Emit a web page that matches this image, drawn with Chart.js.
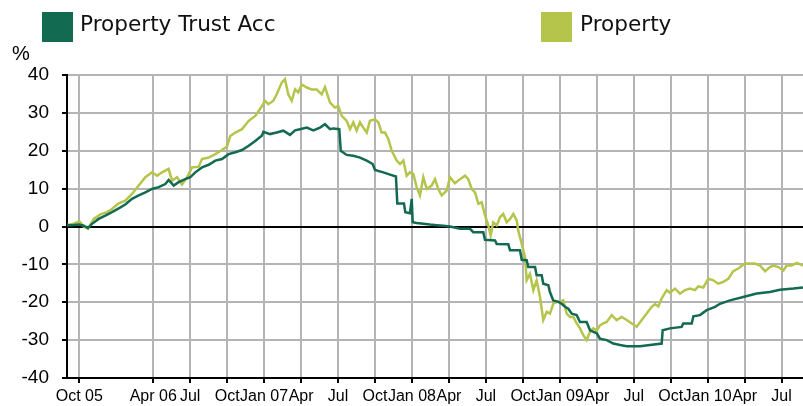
<!DOCTYPE html>
<html>
<head>
<meta charset="utf-8">
<script src="https://cdn.jsdelivr.net/npm/chart.js@4/dist/chart.umd.min.js"></script>
<style>
  html, body { margin: 0; padding: 0; background: #fff; }
  #wrap { position: relative; width: 803px; height: 406px; }
</style>
</head>
<body>
<div id="wrap"><canvas id="chart" width="803" height="406"></canvas></div>
<script>
// months counted from 1 Sep 2005
const tickMonths = [1, 7, 10, 13, 16, 19, 22, 25, 28, 31, 34, 37, 40, 43, 46, 49, 52, 55, 58];
const tickLabels = ['Oct 05', 'Apr 06', 'Jul', 'Oct', 'Jan 07', 'Apr', 'Jul', 'Oct', 'Jan 08', 'Apr', 'Jul', 'Oct', 'Jan 09', 'Apr', 'Jul', 'Oct', 'Jan 10', 'Apr', 'Jul'];

const trustMonths = [0, 0.41, 0.95, 1.36, 1.70, 2.03, 2.57, 3.11, 3.65, 4.20, 4.73, 5.28, 5.82, 6.36, 6.90, 7.44, 7.98, 8.25, 8.66, 9.06,
  9.60, 10.01, 10.41, 10.96, 11.50, 12.04, 12.58, 13.12, 13.66, 14.20, 14.75, 15.28, 15.83, 15.94, 16.48, 17.02, 17.56, 18.10, 18.51, 18.91,
  19.46, 19.99, 20.54, 20.94, 21.35, 21.62, 22.10, 22.22, 22.70, 23.24, 23.78, 24.33, 24.81, 25.00, 25.67, 26.22, 26.70, 26.81, 27.35, 27.46,
  27.84, 27.98, 28.06, 28.38, 28.92, 29.46, 30.01, 30.54, 31.09, 31.90, 32.71, 32.98, 33.79, 33.93, 34.74, 34.88, 35.82, 35.96, 36.77, 36.91,
  37.31, 37.44, 37.99, 38.12, 38.53, 38.66, 39.07, 39.20, 39.47, 39.88, 40.15, 40.42, 40.69, 40.97, 41.37, 41.64, 42.18, 42.45, 43.00, 43.26,
  43.81, 44.34, 44.89, 45.43, 45.97, 46.51, 47.32, 48.27, 48.35, 48.94, 49.89, 50.02, 50.71, 50.84, 51.38, 51.92, 52.60, 53.00, 53.81, 54.89,
  55.98, 57.06, 57.87, 58.95, 59.74];
const trustValues = [0.3, 0.3, 0.5, 0.2, -0.4, 0.7, 2.0, 2.9, 3.8, 4.8, 5.8, 7.3, 8.2, 9.0, 9.9, 10.4, 11.2, 12.3, 10.8, 11.7,
  12.5, 13.0, 14.3, 15.6, 16.3, 17.4, 17.8, 19.1, 19.6, 20.2, 21.3, 22.6, 24.0, 25.0, 24.4, 24.8, 25.3, 24.2, 25.4, 25.7,
  26.1, 25.4, 26.1, 27.0, 25.7, 25.9, 25.7, 20.0, 18.9, 18.7, 18.2, 17.4, 16.5, 14.9, 14.3, 13.7, 13.2, 6.1, 6.1, 3.8,
  3.5, 7.3, 1.1, 0.9, 0.7, 0.5, 0.35, 0.2, 0, -0.6, -0.6, -1.5, -1.5, -3.5, -3.7, -4.6, -4.7, -6.3, -6.3, -8.8,
  -8.9, -10.7, -10.7, -12.9, -12.9, -15.1, -15.5, -17.3, -19.5, -19.9, -20.4, -21.2, -21.7, -23.0, -23.4, -25.2, -25.2, -27.4, -28.2, -29.6,
  -30.0, -30.9, -31.3, -31.6, -31.6, -31.6, -31.3, -30.9, -27.4, -26.9, -26.5, -25.6, -25.6, -23.7, -23.4, -22.1, -21.2, -20.4, -19.5, -18.6,
  -17.7, -17.3, -16.7, -16.4, -16.1];

const propMonths = [0, 0.54, 1.00, 1.36, 1.70, 2.17, 2.71, 3.25, 3.65, 4.20, 4.73, 5.28, 5.82, 6.36, 6.90, 7.31, 7.71, 8.25, 8.52, 8.93,
  9.33, 9.74, 10.15, 10.69, 10.96, 11.50, 12.04, 12.58, 12.99, 13.25, 13.66, 14.20, 14.75, 15.28, 15.83, 16.07, 16.34, 16.75, 17.02, 17.43,
  17.69, 17.96, 18.24, 18.51, 18.77, 19.05, 19.46, 19.86, 20.27, 20.67, 20.94, 21.35, 21.75, 22.02, 22.30, 22.70, 22.97, 23.24, 23.51, 23.78,
  24.05, 24.33, 24.59, 25.00, 25.27, 25.54, 25.81, 26.08, 26.36, 26.76, 27.03, 27.30, 27.57, 27.84, 28.11, 28.38, 28.65, 28.92, 29.20, 29.60,
  29.87, 30.14, 30.41, 30.82, 31.09, 31.49, 31.90, 32.31, 32.57, 32.85, 33.12, 33.39, 33.66, 33.93, 34.20, 34.39, 34.60, 34.88, 35.15, 35.41,
  35.69, 35.96, 36.23, 36.50, 36.63, 36.91, 37.18, 37.31, 37.58, 37.85, 38.12, 38.39, 38.66, 38.94, 39.20, 39.47, 39.75, 40.02, 40.28, 40.56,
  40.83, 41.10, 41.37, 41.64, 41.91, 42.18, 42.45, 42.72, 43.00, 43.26, 43.53, 43.81, 44.21, 44.62, 45.02, 45.43, 45.84, 46.24, 46.65, 47.05,
  47.46, 47.73, 48.00, 48.27, 48.68, 48.94, 49.35, 49.76, 50.16, 50.57, 50.97, 51.24, 51.65, 52.05, 52.46, 52.86, 53.27, 53.68, 54.08, 54.49,
  55.03, 55.44, 55.84, 56.25, 56.66, 57.06, 57.33, 57.74, 58.14, 58.42, 58.82, 59.23, 59.74];
const propValues = [0.4, 0.7, 1.4, 0, -0.6, 2.0, 3.2, 3.8, 4.6, 6.1, 6.8, 8.6, 10.8, 13.0, 14.3, 13.4, 14.3, 15.2, 12.1, 13.0,
  11.1, 13.0, 15.6, 15.8, 17.8, 18.2, 19.1, 20.2, 21.1, 23.9, 24.8, 25.7, 27.9, 29.2, 31.8, 33.2, 32.3, 33.2, 34.9, 38.0,
  38.9, 34.9, 33.2, 36.2, 35.4, 37.5, 36.7, 36.2, 36.2, 34.9, 36.8, 32.7, 31.4, 31.8, 29.2, 27.9, 25.7, 27.5, 25.3, 27.5,
  26.1, 24.8, 27.9, 28.3, 27.5, 24.8, 24.8, 23.1, 20.0, 17.4, 16.5, 17.4, 13.4, 14.3, 13.9, 10.4, 8.2, 13.0, 9.9, 10.8,
  12.5, 9.9, 8.2, 9.5, 13.0, 11.4, 12.5, 13.4, 12.5, 9.9, 9.0, 6.0, 6.4, 2.9, 0.3, -2.4, 1.1, 0.3, 2.5, 3.3,
  1.1, 2.0, 3.3, 1.6, -1.1, -4.6, -8.1, -14.2, -12.5, -16.8, -14.2, -18.6, -24.7, -22.5, -23.0, -20.4, -19.9, -19.9, -19.5, -23.0,
  -23.9, -23.9, -25.6, -26.9, -28.7, -30.0, -27.8, -26.9, -27.4, -26.1, -25.6, -25.2, -23.4, -24.7, -23.9, -24.7, -25.6, -26.5, -24.7, -23.0,
  -21.2, -20.5, -21.1, -19.0, -16.8, -17.5, -16.4, -17.7, -16.8, -16.4, -16.8, -15.8, -16.1, -13.8, -14.2, -15.1, -14.6, -13.8, -11.8, -11.1,
  -9.8, -9.8, -9.8, -10.3, -11.8, -10.7, -10.3, -10.7, -11.6, -10.3, -10.3, -9.6, -10.3];

const trustColor = '#126a50';
const propColor = '#b5c44b';
const gridGray = '#b4b4b4';

function toPoints(xs, ys) {
  return xs.map((x, i) => ({ x: x, y: ys[i] }));
}

// Légende et symbole % dessinés à la main
const extrasPlugin = {
  id: 'extras',
  afterDraw(chart) {
    const ctx = chart.ctx;
    ctx.save();
    ctx.fillStyle = trustColor;
    ctx.fillRect(42, 12, 31, 30);
    ctx.fillStyle = propColor;
    ctx.fillRect(541, 12, 31, 30);
    ctx.fillStyle = '#111';
    ctx.font = '21.6px "DejaVu Sans"';
    ctx.textBaseline = 'alphabetic';
    ctx.fillText('Property Trust Acc', 80, 31);
    ctx.fillText('Property', 580, 31);
    ctx.font = '20px "Liberation Sans"';
    ctx.fillStyle = '#000';
    ctx.fillText('%', 12, 60);
    ctx.restore();
  }
};

new Chart(document.getElementById('chart'), {
  type: 'line',
  data: {
    datasets: [
      {
        label: 'Property Trust Acc',
        data: toPoints(trustMonths, trustValues),
        borderColor: trustColor,
        borderWidth: 2.5,
        pointRadius: 0,
        tension: 0
      },
      {
        label: 'Property',
        data: toPoints(propMonths, propValues),
        borderColor: propColor,
        borderWidth: 2.5,
        pointRadius: 0,
        tension: 0
      }
    ]
  },
  options: {
    responsive: false,
    animation: false,
    layout: { padding: { top: 75, left: 0, right: 0, bottom: 0 } },
    plugins: { legend: { display: false }, tooltip: { enabled: false } },
    scales: {
      x: {
        type: 'linear',
        min: 0,
        max: 59.74,
        afterBuildTicks: (scale) => { scale.ticks = tickMonths.map(v => ({ value: v })); },
        afterFit: (scale) => { scale.height = 28; },
        grid: { color: gridGray, lineWidth: 2, tickColor: '#000', tickLength: 5 },
        border: { display: true, color: '#000', width: 2 },
        ticks: {
          autoSkip: false,
          maxRotation: 0,
          minRotation: 0,
          padding: 4,
          color: '#000',
          font: { family: '"Liberation Sans"', size: 16 },
          callback: (value, index) => tickLabels[index]
        }
      },
      y: {
        min: -40,
        max: 40,
        afterFit: (scale) => { scale.width = 67; },
        grid: {
          color: (c) => (c.tick && (c.tick.value === 0 || c.tick.value === -40)) ? '#000' : gridGray,
          lineWidth: 2,
          tickColor: '#000',
          tickLength: 5
        },
        border: { display: true, color: '#000', width: 2 },
        ticks: {
          stepSize: 10,
          padding: 13,
          color: '#000',
          font: { family: '"Liberation Sans"', size: 19 }
        }
      }
    }
  },
  plugins: [extrasPlugin]
});
</script>
</body>
</html>
